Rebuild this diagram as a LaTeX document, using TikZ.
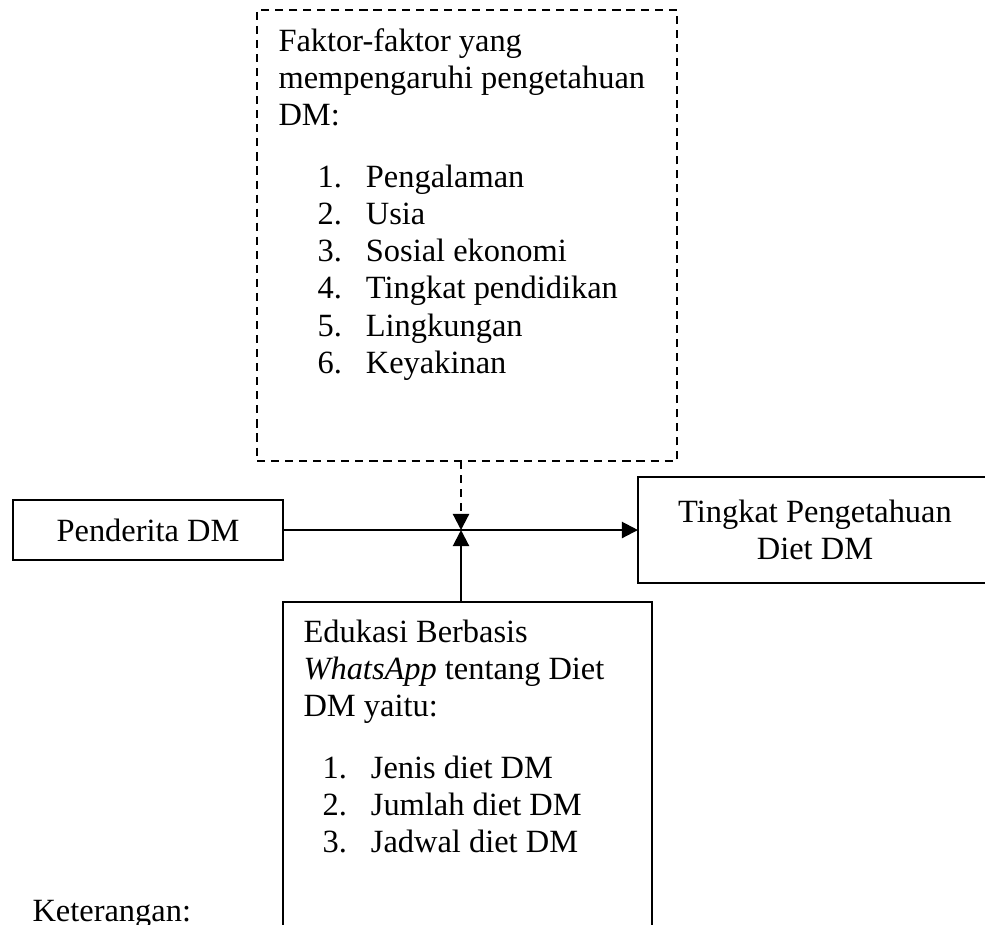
\documentclass[tikz,border=0pt]{standalone}
\usepackage{fontspec}
\setmainfont{Liberation Serif}
\usetikzlibrary{arrows.meta}

\begin{document}
\begin{tikzpicture}[x=0.37pt,y=-0.37pt,font=\fontsize{12}{13.8}\selectfont]
  \tikzset{BoxStyle/.style = {
    shape         = rectangle,
    draw          = black,
    line width    = 0.8pt,
    inner sep     = 0pt,
    outer sep     = 0pt
    }
  }
  \tikzset{DashBoxStyle/.style = {
    BoxStyle,
    dash pattern  = on 3pt off 2.2pt
    }
  }
  \tikzset{TextStyle/.style = {
    anchor        = base west,
    inner sep     = 0pt
    }
  }
  \tikzset{EdgeStyle/.style = {
    draw          = black,
    line width    = 0.8pt,
    -{Triangle[length=6pt,width=6pt]}
    }
  }
  \tikzset{DashEdgeStyle/.style = {
    EdgeStyle,
    dash pattern  = on 3pt off 2.2pt
    }
  }

  \useasboundingbox (0,0) rectangle (985,924);
  \clip (0,0) rectangle (985,924);

	\node[DashBoxStyle, minimum width=155.4pt, minimum height=166.9pt](Faktor) at (467,235.5) {};
	\node[BoxStyle, minimum width=99.9pt, minimum height=22.2pt](Penderita) at (148,530) {Penderita DM};
	\node[BoxStyle, minimum width=131pt, minimum height=39.2pt, align=center](Tingkat) at (815,530) {Tingkat Pengetahuan\\Diet DM};
	\node[BoxStyle, minimum width=136.5pt, minimum height=143.6pt](Edukasi) at (467.5,796) {};
	\coordinate (Meet) at (461,530);

	\node[TextStyle](FaktorHead) at (278,51) {\begin{tabular}[t]{@{}l@{}}Faktor-faktor yang\\mempengaruhi pengetahuan\\DM:\end{tabular}};
	\node[TextStyle](FaktorList) at (317,187) {\begin{tabular}[t]{@{}l@{\hspace{8.9pt}}l@{}}1.&Pengalaman\\2.&Usia\\3.&Sosial ekonomi\\4.&Tingkat pendidikan\\5.&Lingkungan\\6.&Keyakinan\end{tabular}};
	\node[TextStyle](EdukasiHead) at (303,642) {\begin{tabular}[t]{@{}l@{}}Edukasi Berbasis\\\textit{WhatsApp} tentang Diet\\DM yaitu:\end{tabular}};
	\node[TextStyle](EdukasiList) at (322,778) {\begin{tabular}[t]{@{}l@{\hspace{8.9pt}}l@{}}1.&Jenis diet DM\\2.&Jumlah diet DM\\3.&Jadwal diet DM\end{tabular}};
	\node[TextStyle](Keterangan) at (32,921) {Keterangan:};

	\draw[EdgeStyle](Penderita) -- (Tingkat);
	\draw[DashEdgeStyle](Faktor.south -| Meet) -- (Meet);
	\draw[EdgeStyle](Edukasi.north -| Meet) -- (Meet);

\end{tikzpicture}
\end{document}
